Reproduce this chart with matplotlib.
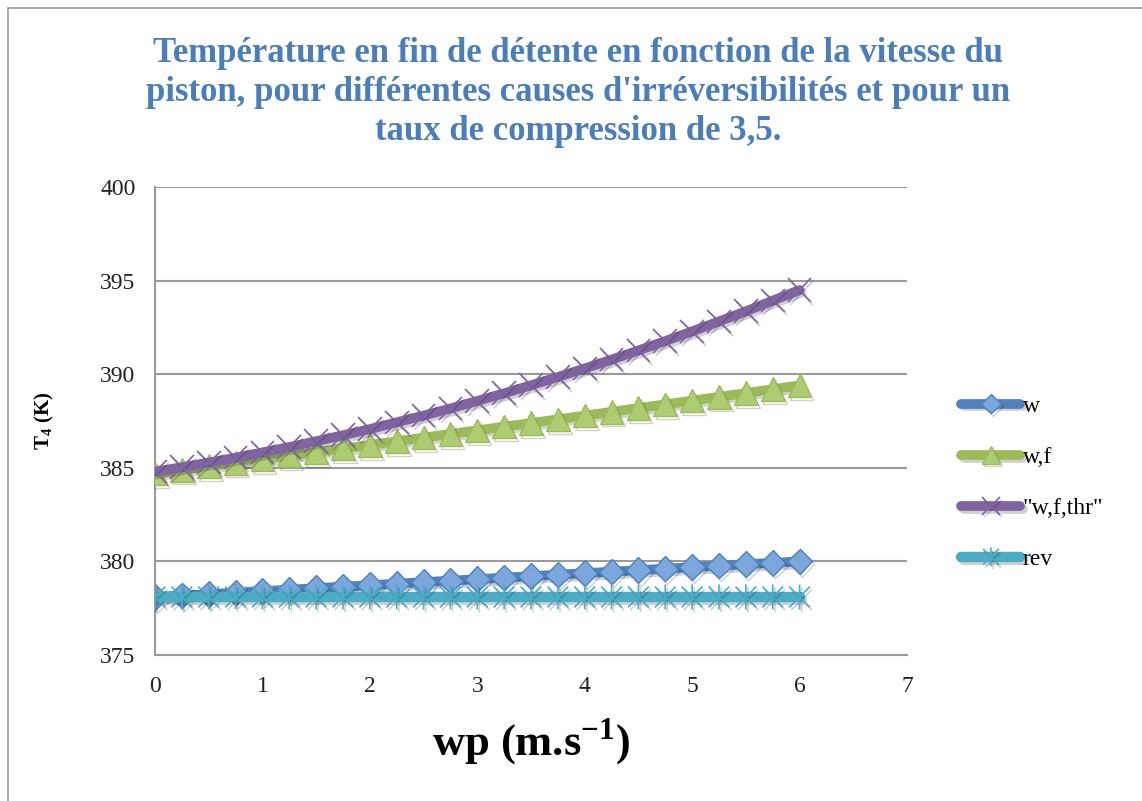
import matplotlib.pyplot as plt
import matplotlib.patheffects as pe
from matplotlib.patches import Rectangle
from matplotlib.path import Path

plt.rcParams['font.family'] = ['Liberation Serif', 'DejaVu Serif']
plt.rcParams['mathtext.fontset'] = 'custom'
plt.rcParams['mathtext.rm'] = 'Liberation Serif'
plt.rcParams['mathtext.bf'] = 'Liberation Serif:bold'

# Piston speed wp (m/s), step 0.25
wp = [0.0, 0.25, 0.5, 0.75, 1.0, 1.25, 1.5, 1.75, 2.0, 2.25, 2.5, 2.75, 3.0,
      3.25, 3.5, 3.75, 4.0, 4.25, 4.5, 4.75, 5.0, 5.25, 5.5, 5.75, 6.0]

# T4 (K) for each irreversibility case
t4_w = [378.10, 378.18, 378.25, 378.33, 378.41, 378.49, 378.57, 378.65, 378.73,
        378.81, 378.89, 378.97, 379.05, 379.13, 379.21, 379.29, 379.37, 379.45,
        379.53, 379.61, 379.69, 379.77, 379.85, 379.92, 380.00]
t4_wf = [384.70, 384.89, 385.08, 385.27, 385.46, 385.65, 385.84, 386.03, 386.22,
         386.42, 386.61, 386.81, 387.00, 387.20, 387.39, 387.59, 387.79, 387.99,
         388.19, 388.39, 388.59, 388.79, 388.99, 389.20, 389.40]
t4_wfthr = [384.80, 385.03, 385.28, 385.54, 385.82, 386.11, 386.42, 386.74, 387.07,
            387.43, 387.79, 388.17, 388.57, 388.98, 389.41, 389.85, 390.31, 390.78,
            391.27, 391.77, 392.29, 392.82, 393.36, 393.93, 394.50]
t4_rev = [378.10] * 25

labels = ['w', 'w,f', '"w,f,thr"', 'rev']
y_ticks = [375, 380, 385, 390, 395, 400]
x_ticks = [0, 1, 2, 3, 4, 5, 6, 7]

# Excel-like "star" marker: an X with a vertical bar
star = Path([(-1, -1), (1, 1), (-1, 1), (1, -1), (0, -1.2), (0, 1.2)],
            [Path.MOVETO, Path.LINETO, Path.MOVETO, Path.LINETO, Path.MOVETO, Path.LINETO])

shadow = [pe.SimpleLineShadow(offset=(1.5, -2), alpha=0.18), pe.Normal()]

fig = plt.figure(figsize=(11.42, 8.01), dpi=100)
# chart frame (only left and top edges visible in the crop)
fig.patches.append(Rectangle((8 / 1142, -0.1), 1.2, 1 - 8 / 801 + 0.1,
                             transform=fig.transFigure, fill=False,
                             edgecolor='#9a9a9a', linewidth=1.2))

ax = fig.add_axes([155 / 1142, 1 - 655 / 801, (907 - 155) / 1142, (655 - 187) / 801])

ax.plot(wp, t4_w, color='#4f81bd', linewidth=7, marker='D', markersize=13,
        markerfacecolor='#7ba7dd', markeredgecolor='#4f81bd', markeredgewidth=1,
        label=labels[0], solid_capstyle='round', zorder=3, path_effects=shadow)
ax.plot(wp, t4_wf, color='#9bbb59', linewidth=7, marker='^', markersize=17,
        markerfacecolor='#afcc72', markeredgecolor='#9bbb59', markeredgewidth=1,
        label=labels[1], solid_capstyle='round', zorder=4, path_effects=shadow)
ax.plot(wp, t4_wfthr, color='#8064a2', linewidth=7, marker='x', markersize=17,
        markeredgecolor='#8064a2', markeredgewidth=1.2,
        label=labels[2], solid_capstyle='round', zorder=5, path_effects=shadow)
ax.plot(wp, t4_rev, color='#4bacc6', linewidth=7.5, marker=star, markersize=18,
        markeredgecolor='#4bacc6', markeredgewidth=1.2,
        label=labels[3], solid_capstyle='round', zorder=6, path_effects=shadow)

ax.set_xlim(0, 7)
ax.set_ylim(375, 400)
ax.set_xticks(x_ticks)
ax.set_yticks(y_ticks)
ax.tick_params(axis='both', length=0, labelsize=17, colors='#222222')
ax.tick_params(axis='x', pad=15)
ax.tick_params(axis='y', pad=14)
ax.grid(axis='y', color='#9a9a9a', linewidth=1.5)
ax.set_axisbelow(True)
for s in ['top', 'right']:
    ax.spines[s].set_visible(False)
for s in ['left', 'bottom']:
    ax.spines[s].set_color('#9a9a9a')
    ax.spines[s].set_linewidth(1.5)

ax.set_xlabel('wp (m.s$^{\\mathbf{-1}}$)', fontsize=32, fontweight='bold', labelpad=14)
ax.set_ylabel('T$_{\\mathbf{4}}$ (K)', fontsize=15, fontweight='bold', labelpad=32)

fig.text(0.506, 1 - 37 / 801,
         "Température en fin de détente en fonction de la vitesse du\n"
         "piston, pour différentes causes d'irréversibilités et pour un\n"
         "taux de compression de 3,5.",
         ha='center', va='top', fontsize=25, fontweight='bold', color='#4a7ebb',
         linespacing=1.25)

fig.legend(loc='upper left', bbox_to_anchor=(952 / 1142, 1 - 386 / 801),
           frameon=False, fontsize=17, numpoints=1, handlelength=2.5,
           handletextpad=0.1, labelspacing=1.25, borderaxespad=0, markerscale=0.75)

fig.savefig('out.png', dpi=100)
